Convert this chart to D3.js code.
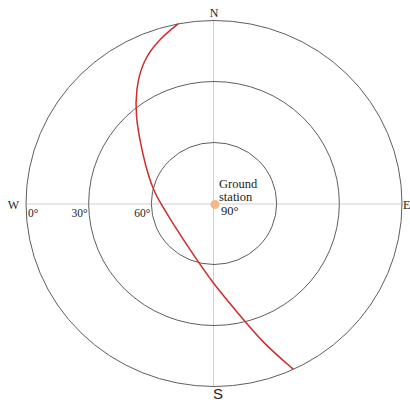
<!DOCTYPE html>
<html>
<head>
<meta charset="utf-8">
<script src="https://cdn.jsdelivr.net/npm/d3@7"></script>
<style>
  html, body { margin: 0; padding: 0; background: #fff; }
  svg { display: block; }
</style>
</head>
<body>
<svg id="chart" width="410" height="403"></svg>
<script>
// satellite pass as seen from the ground station (azimuth deg, elevation deg)
var passAzimuth = [349, 342, 334, 326, 319, 311, 300, 283, 268, 244, 205, 181, 168.3, 161.4, 155];
var passElevation = [0, 5, 12, 23, 33, 43, 52, 60, 65, 68, 64, 51, 35.5, 18.1, 0];

var ringElevations = [0, 30, 60];
var tickElevations = [0, 30, 60, 90];
var tickLabels = ["0\u00b0", "30\u00b0", "60\u00b0", "90\u00b0"];
var compassLabels = ["N", "E", "S", "W"];

var svg = d3.select("#chart");
var cx = 214, cy = 203.5;

// the original plot is slightly wider than tall
var rx = d3.scaleLinear().domain([90, 0]).range([0, 188]);
var ry = d3.scaleLinear().domain([90, 0]).range([0, 183]);

function px(az, el) {
  var a = az * Math.PI / 180;
  return [cx + rx(el) * Math.sin(a), cy - ry(el) * Math.cos(a)];
}

// cross hair
svg.append("line")
  .attr("x1", cx - rx(0)).attr("x2", cx + rx(0) + 1)
  .attr("y1", cy + 0.5).attr("y2", cy + 0.5)
  .attr("stroke", "#cfcfcf").attr("stroke-width", 1);
svg.append("line")
  .attr("x1", cx - 0.5).attr("x2", cx - 0.5)
  .attr("y1", cy - ry(0)).attr("y2", cy + ry(0))
  .attr("stroke", "#cfcfcf").attr("stroke-width", 1);

// elevation rings
svg.selectAll("ellipse.ring")
  .data(ringElevations)
  .enter()
  .append("ellipse")
  .attr("class", "ring")
  .attr("cx", cx).attr("cy", cy)
  .attr("rx", function (d) { return rx(d); })
  .attr("ry", function (d) { return ry(d); })
  .attr("fill", "none")
  .attr("stroke", "#5e5e5e")
  .attr("stroke-width", 1);

// elevation tick labels along the west axis
svg.selectAll("text.tick")
  .data(tickElevations)
  .enter()
  .append("text")
  .attr("class", "tick")
  .attr("x", function (d) {
    if (d === 0) return cx - rx(d) + 2;
    if (d === 90) return cx + 7;
    return cx - rx(d) - 1;
  })
  .attr("y", function (d) { return d === 90 ? 215 : 217; })
  .attr("text-anchor", function (d) { return (d === 0 || d === 90) ? "start" : "end"; })
  .attr("font-family", "Liberation Serif, Times New Roman, serif")
  .attr("font-size", function (d) { return d === 90 ? 12.5 : 11.5; })
  .attr("fill", "#222")
  .text(function (d, i) { return tickLabels[i]; });

// compass letters
var compassPos = [
  { x: cx, y: 17, anchor: "middle", font: "Liberation Serif, serif", size: 12 },
  { x: 403, y: 209, anchor: "start", font: "Liberation Serif, serif", size: 12 },
  { x: cx + 4, y: 399, anchor: "middle", font: "Liberation Sans, Arial, sans-serif", size: 15 },
  { x: 19, y: 209, anchor: "end", font: "Liberation Serif, serif", size: 12 }
];
svg.selectAll("text.compass")
  .data(compassLabels)
  .enter()
  .append("text")
  .attr("class", "compass")
  .attr("x", function (d, i) { return compassPos[i].x; })
  .attr("y", function (d, i) { return compassPos[i].y; })
  .attr("text-anchor", function (d, i) { return compassPos[i].anchor; })
  .attr("font-family", function (d, i) { return compassPos[i].font; })
  .attr("font-size", function (d, i) { return compassPos[i].size; })
  .attr("fill", "#222")
  .text(function (d) { return d; });

// satellite track
var track = d3.range(passAzimuth.length).map(function (i) {
  return px(passAzimuth[i], passElevation[i]);
});
svg.append("path")
  .datum(track)
  .attr("fill", "none")
  .attr("stroke", "#d12b2b")
  .attr("stroke-width", 1.5)
  .attr("d", d3.line().curve(d3.curveBasis));

// ground station
var gs = px(0, 90);
svg.append("circle")
  .attr("cx", gs[0] + 1).attr("cy", gs[1] + 1)
  .attr("r", 4.5)
  .attr("fill", "#f3b98c");
var gsText = svg.append("text")
  .attr("font-family", "Liberation Serif, Times New Roman, serif")
  .attr("font-size", 12.5)
  .attr("fill", "#222");
gsText.append("tspan").attr("x", 219).attr("y", 188).text("Ground");
gsText.append("tspan").attr("x", 219).attr("y", 201).text("station");
</script>
</body>
</html>
